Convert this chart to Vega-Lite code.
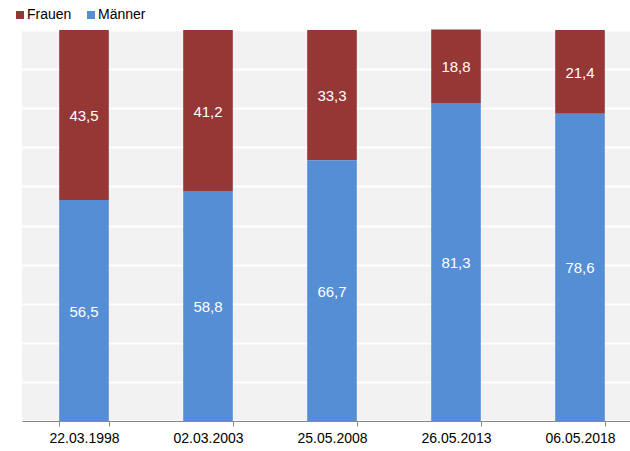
{
  "$schema": "https://vega.github.io/schema/vega-lite/v6.json",
  "autosize": "none",
  "width": 620,
  "height": 391,
  "padding": {"left": 22, "top": 30, "right": 0, "bottom": 30},
  "background": "white",
  "config": {
    "font": "Liberation Sans",
    "view": {"fill": "#F2F2F2", "stroke": null},
    "locale": {"number": {"decimal": ",", "thousands": ".", "grouping": [3], "currency": ["", " €"]}}
  },
  "data": {
    "values": [
      {"date": "22.03.1998", "gender": "Frauen", "value": 43.5},
      {"date": "22.03.1998", "gender": "Männer", "value": 56.5},
      {"date": "02.03.2003", "gender": "Frauen", "value": 41.2},
      {"date": "02.03.2003", "gender": "Männer", "value": 58.8},
      {"date": "25.05.2008", "gender": "Frauen", "value": 33.3},
      {"date": "25.05.2008", "gender": "Männer", "value": 66.7},
      {"date": "26.05.2013", "gender": "Frauen", "value": 18.8},
      {"date": "26.05.2013", "gender": "Männer", "value": 81.3},
      {"date": "06.05.2018", "gender": "Frauen", "value": 21.4},
      {"date": "06.05.2018", "gender": "Männer", "value": 78.6}
    ]
  },
  "transform": [
    {"stack": "value", "groupby": ["date"], "sort": [{"field": "gender", "order": "descending"}], "as": ["v0", "v1"]},
    {"calculate": "(datum.v0 + datum.v1) / 2", "as": "mid"}
  ],
  "encoding": {
    "x": {
      "field": "date", "type": "nominal", "sort": null, "title": null,
      "scale": {"paddingInner": 0.6, "paddingOuter": 0.3},
      "axis": {
        "labelAngle": 0, "labelFontSize": 14, "labelColor": "#000000",
        "domainColor": "#888888", "tickColor": "#888888", "tickSize": 5,
        "tickBand": "extent", "labelPadding": 5, "grid": false
      }
    }
  },
  "layer": [
    {
      "mark": {"type": "bar"},
      "encoding": {
        "y": {
          "field": "v1", "type": "quantitative", "title": null,
          "scale": {"domain": [0, 100], "nice": false},
          "axis": {
            "values": [0, 10, 20, 30, 40, 50, 60, 70, 80, 90, 100],
            "labels": false, "ticks": false, "domain": false,
            "grid": true, "gridColor": "#FFFFFF", "gridWidth": 2
          }
        },
        "y2": {"field": "v0"},
        "color": {
          "field": "gender", "type": "nominal",
          "scale": {"domain": ["Frauen", "Männer"], "range": ["#953735", "#558ED5"]},
          "legend": {
            "title": null, "orient": "none", "direction": "horizontal",
            "legendX": -9, "legendY": -22, "padding": 0,
            "symbolType": "square", "symbolSize": 64, "symbolStrokeWidth": 0,
            "labelFontSize": 14, "labelColor": "#000000", "labelOffset": 0,
            "columnPadding": 12
          }
        }
      }
    },
    {
      "mark": {"type": "text", "color": "white", "fontSize": 15, "baseline": "middle", "align": "center", "dy": 1},
      "encoding": {
        "y": {
          "field": "mid", "type": "quantitative", "title": null,
          "scale": {"domain": [0, 100], "nice": false},
          "axis": {
            "values": [0, 10, 20, 30, 40, 50, 60, 70, 80, 90, 100],
            "labels": false, "ticks": false, "domain": false,
            "grid": true, "gridColor": "#FFFFFF", "gridWidth": 2
          }
        },
        "text": {"field": "value", "type": "quantitative", "format": ".1f"}
      }
    }
  ]
}
